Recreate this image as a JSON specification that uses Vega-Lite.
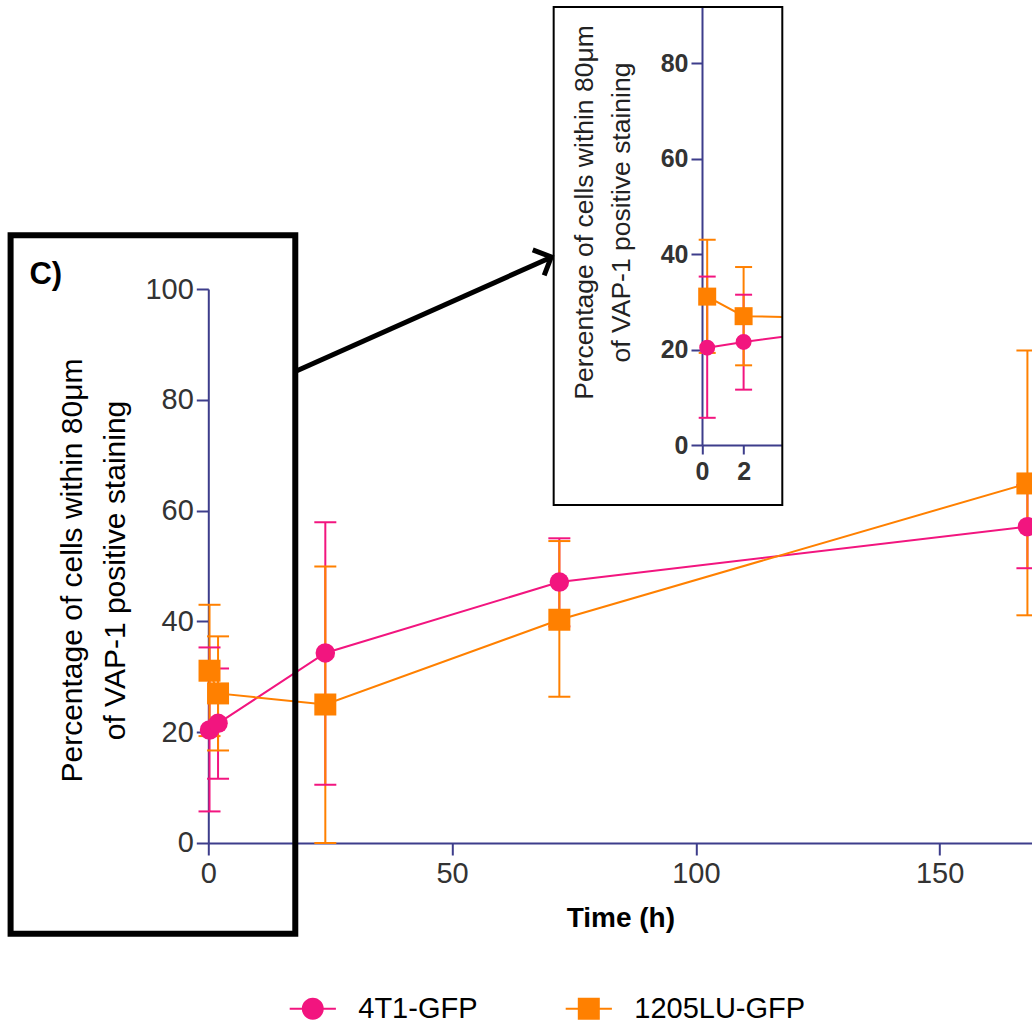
{
  "$schema": "https://vega.github.io/schema/vega-lite/v6.json",
  "autosize": {"type": "pad"},
  "padding": {"left": 7.3, "top": 6, "right": 0, "bottom": 0},
  "background": "white",
  "config": {
    "view": {"stroke": null},
    "font": "Liberation Sans",
    "axis": {"grid": false, "labelFlush": false, "domainColor": "#3D3D8B", "tickColor": "#3D3D8B", "labelOverlap": false}
  },
  "bounds": "flush",
  "spacing": 0,
  "datasets": {
    "cells": [
      {"line": "4T1-GFP", "time": 0.25, "mean": 20.4, "lo": 5.7, "hi": 35.3},
      {"line": "4T1-GFP", "time": 2, "mean": 21.6, "lo": 11.6, "hi": 31.5},
      {"line": "4T1-GFP", "time": 24, "mean": 34.3, "lo": 10.5, "hi": 57.9},
      {"line": "4T1-GFP", "time": 72, "mean": 47.1, "lo": 39.1, "hi": 55.0},
      {"line": "4T1-GFP", "time": 168, "mean": 57.1, "lo": 49.6, "hi": 64.6},
      {"line": "1205LU-GFP", "time": 0.25, "mean": 31.1, "lo": 19.3, "hi": 43.0},
      {"line": "1205LU-GFP", "time": 2, "mean": 27.0, "lo": 16.7, "hi": 37.3},
      {"line": "1205LU-GFP", "time": 24, "mean": 25.0, "lo": 0.0, "hi": 49.9},
      {"line": "1205LU-GFP", "time": 72, "mean": 40.3, "lo": 26.4, "hi": 54.5},
      {"line": "1205LU-GFP", "time": 168, "mean": 64.9, "lo": 41.1, "hi": 88.9}
    ]
  },
  "vconcat": [
    {
      "width": 574,
      "height": 438,
      "data": {"name": "cells"},
      "layer": [
        {
          "mark": {"type": "rule", "strokeWidth": 2, "clip": true},
          "encoding": {
            "x": {"field": "time", "type": "quantitative",
                  "scale": {"domain": [0, 3.86], "range": [493.7, 574], "nice": false, "zero": false},
                  "axis": {"values": [0, 2], "format": "d", "tickSize": 9, "tickWidth": 2, "domainWidth": 2, "labelFontSize": 25, "labelFontWeight": "bold", "labelColor": "#333333", "labelPadding": 5, "title": null}},
            "y": {"field": "lo", "type": "quantitative",
                  "scale": {"domain": [0, 91.8], "nice": false, "zero": false},
                  "axis": {"values": [0, 20, 40, 60, 80], "offset": -493.7, "tickSize": 11, "tickWidth": 2, "domainWidth": 2, "labelFontSize": 25, "labelFontWeight": "bold", "labelColor": "#333333", "labelPadding": 3,
                           "title": ["Percentage of cells within 80μm", "of VAP-1 positive staining"],
                           "titleFontSize": 26.5, "titleFontWeight": "normal", "titleColor": "#222222", "titleLineHeight": 36.7, "titlePadding": 25, "titleY": 205}},
            "y2": {"field": "hi"},
            "color": {"field": "line", "type": "nominal", "scale": {"domain": ["4T1-GFP", "1205LU-GFP"], "range": ["#F2157F", "#FF8000"]}}
          }
        },
        {
          "transform": [{"fold": ["lo", "hi"], "as": ["bound", "val"]}],
          "mark": {"type": "tick", "orient": "horizontal", "size": 17, "thickness": 2, "opacity": 1, "clip": true},
          "encoding": {
            "x": {"field": "time", "type": "quantitative", "scale": {"domain": [0, 3.86], "range": [493.7, 574], "nice": false, "zero": false}},
            "y": {"field": "val", "type": "quantitative", "scale": {"domain": [0, 91.8], "nice": false, "zero": false}},
            "color": {"field": "line", "type": "nominal"}
          }
        },
        {
          "mark": {"type": "line", "strokeWidth": 2, "clip": true},
          "encoding": {
            "x": {"field": "time", "type": "quantitative", "scale": {"domain": [0, 3.86], "range": [493.7, 574], "nice": false, "zero": false}},
            "y": {"field": "mean", "type": "quantitative", "scale": {"domain": [0, 91.8], "nice": false, "zero": false}},
            "color": {"field": "line", "type": "nominal"}
          }
        },
        {
          "transform": [{"filter": "datum.line === '4T1-GFP'"}],
          "mark": {"type": "point", "shape": "circle", "size": 254, "filled": true, "opacity": 1, "strokeWidth": 0, "clip": true},
          "encoding": {
            "x": {"field": "time", "type": "quantitative", "scale": {"domain": [0, 3.86], "range": [493.7, 574], "nice": false, "zero": false}},
            "y": {"field": "mean", "type": "quantitative", "scale": {"domain": [0, 91.8], "nice": false, "zero": false}},
            "color": {"field": "line", "type": "nominal"}
          }
        },
        {
          "transform": [{"filter": "datum.line === '1205LU-GFP'"}],
          "mark": {"type": "point", "shape": "square", "size": 324, "filled": true, "opacity": 1, "strokeWidth": 0, "clip": true},
          "encoding": {
            "x": {"field": "time", "type": "quantitative", "scale": {"domain": [0, 3.86], "range": [493.7, 574], "nice": false, "zero": false}},
            "y": {"field": "mean", "type": "quantitative", "scale": {"domain": [0, 91.8], "nice": false, "zero": false}},
            "color": {"field": "line", "type": "nominal"}
          }
        },
        {
          "data": {"values": [{}]},
          "mark": {"type": "rect", "filled": false, "stroke": "black", "strokeWidth": 2},
          "encoding": {
            "x": {"datum": -7.13, "type": "quantitative", "scale": {"domain": [0, 3.86], "range": [493.7, 574], "nice": false, "zero": false}},
            "x2": {"datum": 3.86},
            "y": {"datum": 91.8, "type": "quantitative", "scale": {"domain": [0, 91.8], "nice": false, "zero": false}},
            "y2": {"datum": -12.58}
          }
        }
      ]
    },
    {
      "width": 824,
      "height": 398,
      "data": {"name": "cells"},
      "layer": [
        {
          "mark": {"type": "rule", "strokeWidth": 2},
          "encoding": {
            "x": {"field": "time", "type": "quantitative",
                  "scale": {"domain": [0, 169], "nice": false, "zero": false},
                  "axis": {"values": [0, 50, 100, 150], "tickSize": 12, "tickWidth": 2, "domainWidth": 2, "labelFontSize": 29, "labelColor": "#333333", "labelPadding": 5,
                           "title": "Time (h)", "titleFontSize": 28, "titleFontWeight": "bold", "titleColor": "black", "titlePadding": 16}},
            "y": {"field": "lo", "type": "quantitative",
                  "scale": {"domain": [0, 100], "range": [398, -156], "nice": false, "zero": false},
                  "axis": {"values": [0, 20, 40, 60, 80, 100], "tickSize": 12, "tickWidth": 2, "domainWidth": 2, "labelFontSize": 29, "labelColor": "#333333", "labelPadding": 3,
                           "title": ["Percentage of cells within 80μm", "of VAP-1 positive staining"],
                           "titleFontSize": 30, "titleFontWeight": "normal", "titleColor": "black", "titleLineHeight": 43, "titlePadding": 14, "titleY": 125}},
            "y2": {"field": "hi"},
            "color": {"field": "line", "type": "nominal",
                      "scale": {"domain": ["4T1-GFP", "1205LU-GFP"], "range": ["#F2157F", "#FF8000"]},
                      "legend": {
                        "orient": "none", "legendX": 90, "legendY": 987, "direction": "horizontal", "title": null,
                        "symbolSize": 484, "symbolStrokeWidth": 0, "labelFontSize": 29, "labelColor": "black",
                        "labelOffset": 31, "columnPadding": 87, "padding": 0, "labelLimit": 0,
                        "encode": {"symbols": {"update": {
                          "shape": {"signal": "datum.value === '4T1-GFP' ? 'M-2.1,-0.09H2.1V0.09H-2.1Z M1,0A1,1,0,1,1,-1,0A1,1,0,1,1,1,0Z' : 'M-2.1,-0.09H2.1V0.09H-2.1Z M-1,-1H1V1H-1Z'"},
                          "fill": {"scale": "color", "field": "value"},
                          "opacity": {"value": 1}
                        }}}
                      }}
          }
        },
        {
          "transform": [{"fold": ["lo", "hi"], "as": ["bound", "val"]}],
          "mark": {"type": "tick", "orient": "horizontal", "size": 22, "thickness": 2, "opacity": 1},
          "encoding": {
            "x": {"field": "time", "type": "quantitative", "scale": {"domain": [0, 169], "nice": false, "zero": false}},
            "y": {"field": "val", "type": "quantitative", "scale": {"domain": [0, 100], "range": [398, -156], "nice": false, "zero": false}},
            "color": {"field": "line", "type": "nominal"}
          }
        },
        {
          "mark": {"type": "line", "strokeWidth": 2},
          "encoding": {
            "x": {"field": "time", "type": "quantitative", "scale": {"domain": [0, 169], "nice": false, "zero": false}},
            "y": {"field": "mean", "type": "quantitative", "scale": {"domain": [0, 100], "range": [398, -156], "nice": false, "zero": false}},
            "color": {"field": "line", "type": "nominal"}
          }
        },
        {
          "transform": [{"filter": "datum.line === '4T1-GFP'"}],
          "mark": {"type": "point", "shape": "circle", "size": 380, "filled": true, "opacity": 1, "strokeWidth": 0},
          "encoding": {
            "x": {"field": "time", "type": "quantitative", "scale": {"domain": [0, 169], "nice": false, "zero": false}},
            "y": {"field": "mean", "type": "quantitative", "scale": {"domain": [0, 100], "range": [398, -156], "nice": false, "zero": false}},
            "color": {"field": "line", "type": "nominal"}
          }
        },
        {
          "transform": [{"filter": "datum.line === '1205LU-GFP'"}],
          "mark": {"type": "point", "shape": "square", "size": 484, "filled": true, "opacity": 1, "strokeWidth": 0},
          "encoding": {
            "x": {"field": "time", "type": "quantitative", "scale": {"domain": [0, 169], "nice": false, "zero": false}},
            "y": {"field": "mean", "type": "quantitative", "scale": {"domain": [0, 100], "range": [398, -156], "nice": false, "zero": false}},
            "color": {"field": "line", "type": "nominal"}
          }
        },
        {
          "data": {"values": [{}]},
          "mark": {"type": "rect", "filled": false, "stroke": "black", "strokeWidth": 6, "strokeJoin": "miter"},
          "encoding": {
            "x": {"datum": -40.55, "type": "quantitative", "scale": {"domain": [0, 169], "nice": false, "zero": false}},
            "x2": {"datum": 17.84},
            "y": {"datum": 109.7, "type": "quantitative", "scale": {"domain": [0, 100], "range": [398, -156], "nice": false, "zero": false}},
            "y2": {"datum": -16.4}
          }
        },
        {
          "data": {"values": [{}]},
          "mark": {"type": "rule", "stroke": "black", "strokeWidth": 5},
          "encoding": {
            "x": {"datum": 18.05, "type": "quantitative", "scale": {"domain": [0, 169], "nice": false, "zero": false}},
            "x2": {"datum": 70.0},
            "y": {"datum": 85.2, "type": "quantitative", "scale": {"domain": [0, 100], "range": [398, -156], "nice": false, "zero": false}},
            "y2": {"datum": 105.6}
          }
        },
        {
          "data": {"values": [{}]},
          "mark": {"type": "point", "shape": "M-1,-1L0,0L-1,1", "filled": false, "stroke": "black", "strokeWidth": 5, "strokeJoin": "miter", "size": 784, "angle": 335.9, "opacity": 1},
          "encoding": {
            "x": {"datum": 70.34, "type": "quantitative", "scale": {"domain": [0, 169], "nice": false, "zero": false}},
            "y": {"datum": 105.78, "type": "quantitative", "scale": {"domain": [0, 100], "range": [398, -156], "nice": false, "zero": false}}
          }
        },
        {
          "data": {"values": [{}]},
          "mark": {"type": "text", "text": "C)", "fontSize": 31, "fontWeight": "bold", "align": "center", "baseline": "middle", "color": "black"},
          "encoding": {
            "x": {"datum": -33.33, "type": "quantitative", "scale": {"domain": [0, 169], "nice": false, "zero": false}},
            "y": {"datum": 102.6, "type": "quantitative", "scale": {"domain": [0, 100], "range": [398, -156], "nice": false, "zero": false}}
          }
        }
      ]
    }
  ]
}
